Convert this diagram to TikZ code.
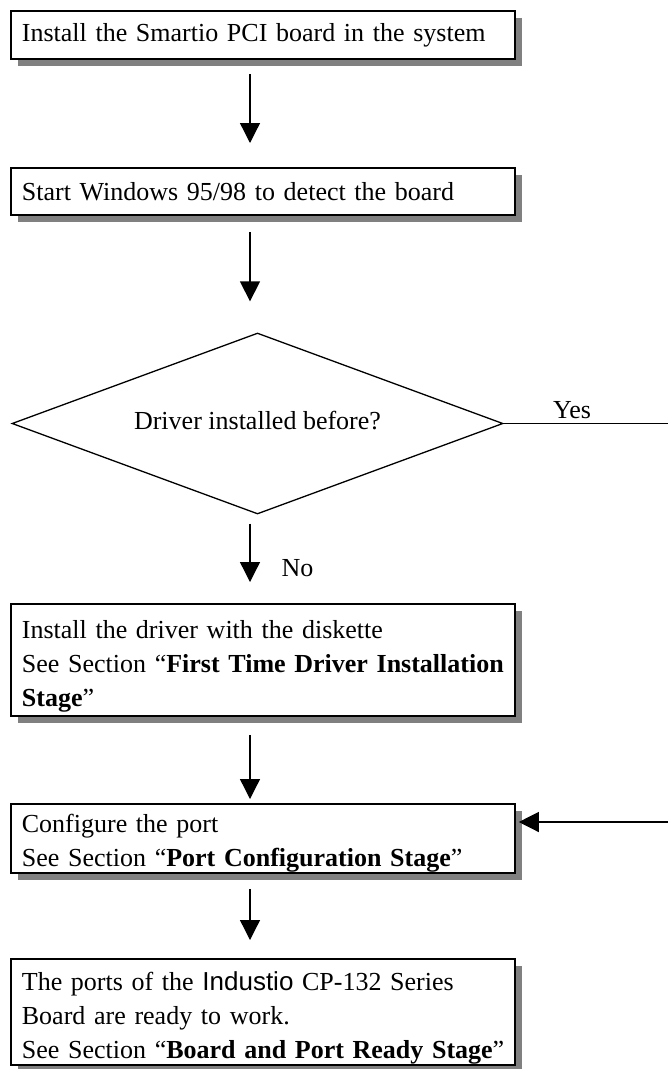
\documentclass[tikz,border=0pt]{standalone}
\usepackage{fontspec}
\setmainfont{Liberation Serif}
\newfontfamily\arialfont{Liberation Sans}
\usetikzlibrary{shapes.geometric,arrows.meta,shadows,calc}
\definecolor{shadowgray}{RGB}{128,128,128}
\begin{document}
\begin{tikzpicture}[x=1pt,y=-1pt,
  every node/.style={font=\fontsize{26}{34}\selectfont},
  stepbox/.style={draw,line width=1.8pt,fill=white,anchor=north west,
    text width=482pt,align=left,inner xsep=11pt,inner ysep=0pt,
    drop shadow={shadow xshift=7pt,shadow yshift=-7pt,fill=shadowgray,opacity=1}},
  pushdown/.style={execute at begin node={\rule{0pt}{#1}}},
  decision/.style={draw,diamond,shape aspect=2.71,line width=1.3pt,minimum width=491pt,minimum height=181pt,inner sep=0pt},
  flow/.style={line width=1.3pt,-{Triangle[length=20pt,width=20pt]}},
  plain/.style={line width=1.3pt}]
\useasboundingbox (0,0) rectangle (668,1069);
\coordinate (col) at (250,0);
\node[stepbox,minimum height=48pt] (b1) at (10,10) {\mbox{Install the Smartio PCI board in the system}};
\node[stepbox,minimum height=47pt] (b2) at (10,167) {\mbox{Start Windows 95/98 to detect the board}};
\node[decision] (dec) at (257.5,423.5) {\raisebox{6pt}{Driver installed before?}};
\node[stepbox,minimum height=112pt,pushdown=30pt] (b3) at (10,603) {\mbox{Install the driver with the diskette}\\
\mbox{See Section “\textbf{First Time Driver Installation}}\\
\mbox{\textbf{Stage}”}};
\node[stepbox,minimum height=69pt,pushdown=27pt] (b4) at (10,803) {\mbox{Configure the port}\\
\mbox{See Section “\textbf{Port Configuration Stage}”}};
\node[stepbox,minimum height=106pt,pushdown=31pt] (b5) at (10,958) {\mbox{The ports of the {\arialfont Industio} CP-132 Series}\\
\mbox{Board are ready to work.}\\
\mbox{See Section “\textbf{Board and Port Ready Stage}”}};
\node (yes) at (572,410) {Yes};
\node[anchor=west] (no) at (278,568) {No};
\coordinate (yesend) at (668,425);
\coordinate (loopin) at (668,822);
\draw[flow,shorten <=14pt,shorten >=24pt] (b1.south -| col) -- (b2.north -| col);
\draw[flow,shorten <=16pt,shorten >=31pt] (b2.south -| col) -- (dec.north -| col);
\draw[flow,shorten <=9pt,shorten >=21pt] (dec.south -| col) -- (b3.north -| col);
\draw[flow,shorten <=18pt,shorten >=4pt] (b3.south -| col) -- (b4.north -| col);
\draw[flow,shorten <=15pt,shorten >=18pt] (b4.south -| col) -- (b5.north -| col);
\draw[plain] (dec.east) -- (dec.east -| yesend);
\draw[flow] (loopin) -- ($(b4.east |- loopin)+(3,0)$);
\end{tikzpicture}
\end{document}
